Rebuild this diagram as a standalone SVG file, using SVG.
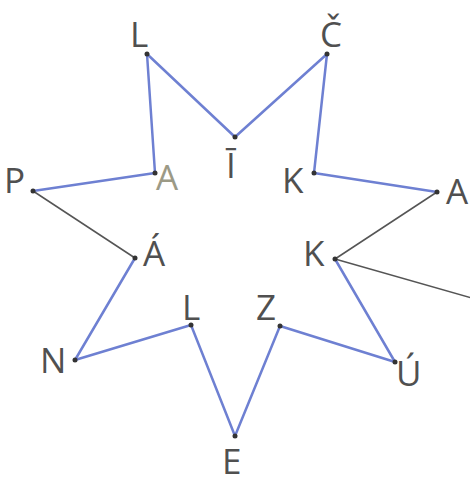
<svg xmlns="http://www.w3.org/2000/svg" width="470" height="484" viewBox="0 0 470 484">
<style>
.b{stroke:#6e80d2;stroke-width:2.5;fill:none;stroke-linecap:round}
.g{stroke:#555;stroke-width:1.5;fill:none;stroke-linecap:round}
.d{fill:#333}
text{font-family:"Open Sans","DejaVu Sans",sans-serif;font-size:35px;fill:#505050}
.lt{fill:#9c9a86}
</style>
<rect width="470" height="484" fill="#fff"/>
<g id="connectors">
<line class="b" x1="33" y1="191" x2="155" y2="173"/>
<line class="b" x1="155" y1="173" x2="147" y2="54"/>
<line class="b" x1="147" y1="54" x2="235" y2="137"/>
<line class="b" x1="235" y1="137" x2="327" y2="54"/>
<line class="b" x1="327" y1="54" x2="314" y2="173"/>
<line class="b" x1="314" y1="173" x2="437" y2="192"/>
<line class="g" x1="437" y1="192" x2="335" y2="259"/>
<line class="g" x1="335" y1="259" x2="472" y2="298"/>
<line class="b" x1="335" y1="259" x2="395" y2="362"/>
<line class="b" x1="395" y1="362" x2="280" y2="326"/>
<line class="b" x1="280" y1="326" x2="235" y2="436"/>
<line class="b" x1="235" y1="436" x2="191" y2="325"/>
<line class="b" x1="191" y1="325" x2="75" y2="360"/>
<line class="b" x1="75" y1="360" x2="135" y2="258"/>
<line class="g" x1="135" y1="258" x2="33" y2="191"/>
</g>
<g id="n-L1"><circle class="d" cx="147" cy="54" r="2.5"/><text x="130" y="47">L</text></g>
<g id="n-I"><circle class="d" cx="235" cy="137" r="2.5"/><text x="226" y="178">Ī</text></g>
<g id="n-C"><circle class="d" cx="327" cy="54" r="2.5"/><text x="320" y="47">Č</text></g>
<g id="n-A1"><circle class="d" cx="155" cy="173" r="2.5"/><text class="lt" x="156" y="190">A</text></g>
<g id="n-K1"><circle class="d" cx="314" cy="173" r="2.5"/><text x="282" y="193">K</text></g>
<g id="n-A2"><circle class="d" cx="437" cy="192" r="2.5"/><text x="446" y="204">A</text></g>
<g id="n-P"><circle class="d" cx="33" cy="191" r="2.5"/><text x="4" y="193">P</text></g>
<g id="n-Aa"><circle class="d" cx="135" cy="258" r="2.5"/><text x="143" y="266">Á</text></g>
<g id="n-K2"><circle class="d" cx="335" cy="259" r="2.5"/><text x="303" y="266">K</text></g>
<g id="n-L2"><circle class="d" cx="191" cy="325" r="2.5"/><text x="182" y="320">L</text></g>
<g id="n-Z"><circle class="d" cx="280" cy="326" r="2.5"/><text x="256" y="320">Z</text></g>
<g id="n-N"><circle class="d" cx="75" cy="360" r="2.5"/><text x="40" y="373">N</text></g>
<g id="n-U"><circle class="d" cx="395" cy="362" r="2.5"/><text x="396" y="386">Ú</text></g>
<g id="n-E"><circle class="d" cx="235" cy="436" r="2.5"/><text x="222" y="474">E</text></g>
</svg>
